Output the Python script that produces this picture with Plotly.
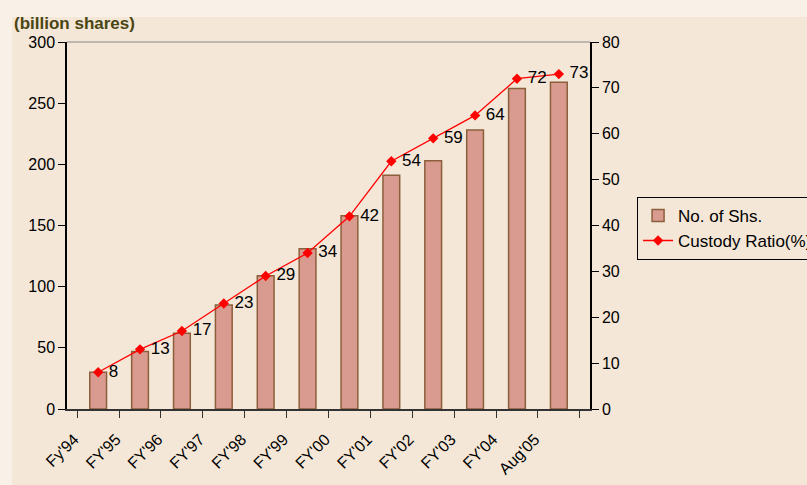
import plotly.graph_objects as go

CATEGORIES = ["Fy'94", "FY'95", "FY'96", "FY'97", "FY'98", "FY'99", "FY'00", "FY'01", "FY'02", "FY'03", "FY'04", "Aug'05"]
SHARES = [30, 47, 62, 85, 109, 131, 158, 191, 203, 228, 262, 267]
CUSTODY_RATIO = [8, 13, 17, 23, 29, 34, 42, 54, 59, 64, 72, 73]

OUTER_BG = "#f9f1e7"
INNER_BG = "#f4e7d7"
BAR_FILL = "#d99a8f"
BAR_EDGE = "#8c5f3c"

fig = go.Figure()
fig.add_trace(go.Bar(
    x=CATEGORIES, y=SHARES, name="No. of Shs.",
    marker=dict(color=BAR_FILL, line=dict(color=BAR_EDGE, width=1.5)),
))
fig.add_trace(go.Scatter(
    x=CATEGORIES, y=CUSTODY_RATIO, name="Custody Ratio(%)", yaxis="y2",
    mode="lines+markers+text", text=[" " + str(v) for v in CUSTODY_RATIO],
    textposition="middle right", textfont=dict(size=17, color="black"),
    line=dict(color="#ff0000", width=1.3),
    marker=dict(symbol="diamond", size=8, color="#ff0000"),
))

# plot area: x 67..590, y 42..409
fig.update_layout(
    width=807, height=485,
    margin=dict(l=67, r=217, t=42, b=76, autoexpand=False),
    paper_bgcolor=OUTER_BG,
    plot_bgcolor="rgba(0,0,0,0)",
    font=dict(family="Arial, Liberation Sans, sans-serif", size=16, color="black"),
    bargap=0.6,
    showlegend=True,
    legend=dict(x=1.09, y=0.578, xanchor="left", yanchor="top", bgcolor="rgba(0,0,0,0)",
                bordercolor="black", borderwidth=1, font=dict(size=17), tracegroupgap=0),
    shapes=[
        dict(type="rect", xref="paper", yref="paper", x0=-0.105, x1=1.42, y0=-0.21, y1=1.068,
             fillcolor=INNER_BG, line=dict(width=0), layer="below"),
        dict(type="line", xref="paper", yref="paper", x0=0, x1=1, y0=1, y1=1,
             line=dict(color="#8a8a8a", width=1)),
    ],
    annotations=[
        dict(text="<b>(billion shares)</b>", xref="paper", yref="paper", x=-0.106, y=1.02,
             xanchor="left", yanchor="bottom", showarrow=False,
             font=dict(size=17, color="#4a4512")),
    ],
)
fig.update_xaxes(
    automargin=False,
    showgrid=False, showline=True, linecolor="#333333", linewidth=1.5,
    ticks="outside", tickson="boundaries", ticklen=7, tickcolor="#333333",
    tickangle=-45, tickfont=dict(size=16), ticklabelshift=-24, ticklabelstandoff=13,
)
fig.update_yaxes(
    automargin=False,
    range=[0, 300], dtick=50, showgrid=False, zeroline=False,
    showline=True, linecolor="black", linewidth=1.5,
    ticks="outside", ticklen=7, tickcolor="black", tickfont=dict(size=16),
)
fig.update_layout(yaxis2=dict(
    automargin=False,
    overlaying="y", side="right", range=[0, 80], dtick=10, showgrid=False, zeroline=False,
    showline=True, linecolor="black", linewidth=1.5,
    ticks="outside", ticklen=7, tickcolor="black", tickfont=dict(size=16),
))

fig.write_html("out.html", config={"displayModeBar": False},
               post_script="document.body.style.margin = '0';")
